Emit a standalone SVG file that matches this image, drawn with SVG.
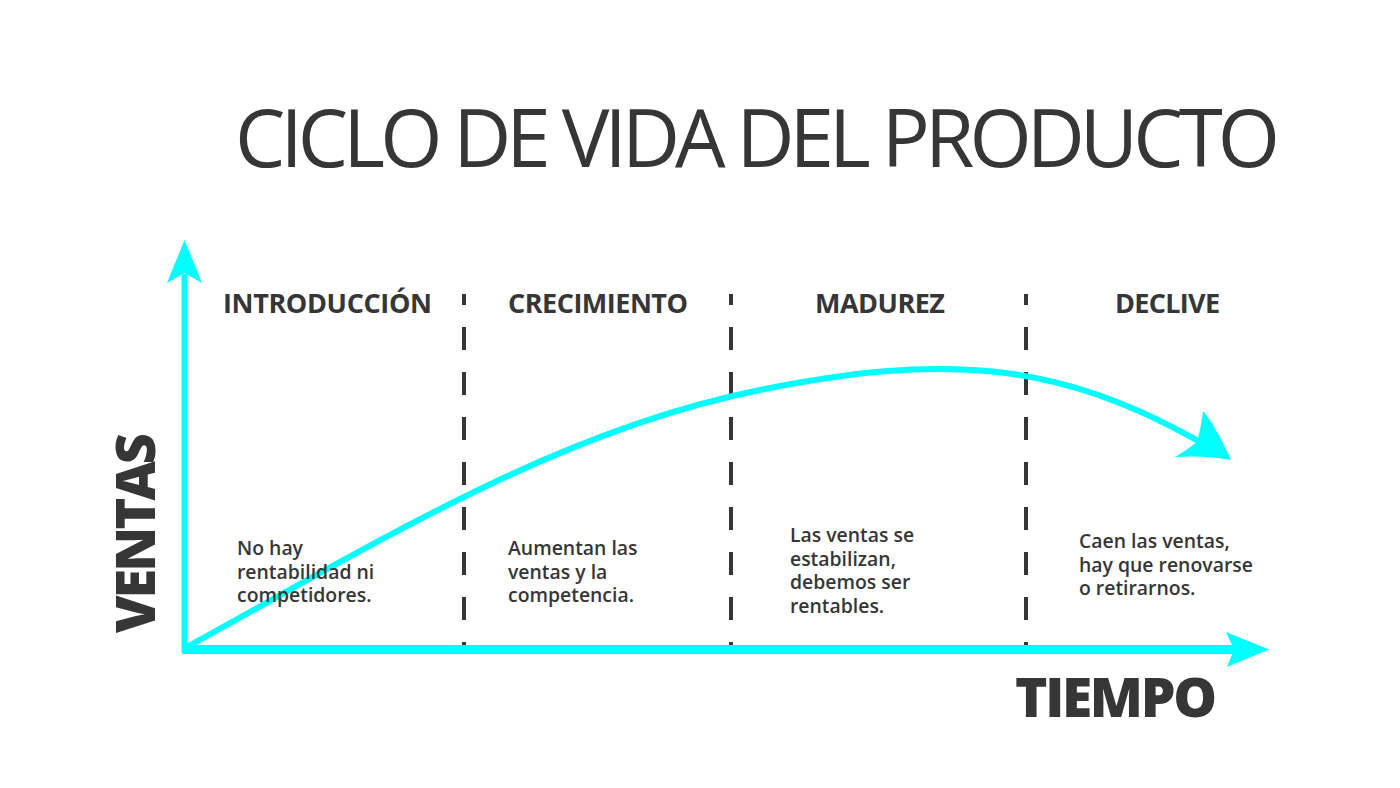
<svg xmlns="http://www.w3.org/2000/svg" width="1400" height="788" viewBox="0 0 1400 788">
  <style>
    .title { font-family: "Open Sans", "Liberation Sans", sans-serif; font-size: 80px; font-weight: 400; fill: #363636; }
    .head { font-family: "Open Sans", "Liberation Sans", sans-serif; font-size: 27px; font-weight: 700; fill: #363636; }
    .body { font-family: "Open Sans", "Liberation Sans", sans-serif; font-size: 19.4px; font-weight: 600; fill: #363636; }
    .axis { font-family: "Open Sans", "Liberation Sans", sans-serif; font-weight: 800; fill: #363636; }
    .dash { stroke: #363636; stroke-width: 4; stroke-dasharray: 23 22; fill: none; }
    .cyan { stroke: #00FFFF; fill: none; }
    .head-fill { fill: #00FFFF; stroke: none; }
  </style>
  <rect width="1400" height="788" fill="#ffffff"/>

  <g id="title">
    <text class="title" x="235" y="167" textLength="1045" lengthAdjust="spacing">CICLO DE VIDA DEL PRODUCTO</text>
  </g>

  <g id="dividers">
    <line class="dash" x1="464" y1="294" x2="464" y2="645" stroke-dashoffset="12"/>
    <line class="dash" x1="731" y1="294" x2="731" y2="645" stroke-dashoffset="12"/>
    <line class="dash" x1="1026" y1="294" x2="1026" y2="645" stroke-dashoffset="12"/>
  </g>

  <g id="connectors">
    <path id="curve" class="cyan" stroke-width="6" d="M185,648 C385,538 560,430 760,390 C940,354 1055,359.5 1200,442"/>
    <path class="head-fill" d="M1231,460 Q1215,425 1203,411 Q1201,428 1197,442 Q1187,450 1175,457 Q1205,455 1231,460 Z"/>
    <line id="y-axis" class="cyan" stroke-width="6" x1="184.5" y1="652" x2="184.5" y2="274"/>
    <polygon class="head-fill" points="184.5,240 202,283 184.5,273 167,283"/>
    <line id="x-axis" class="cyan" stroke-width="9" x1="182" y1="649.5" x2="1236" y2="649.5"/>
    <polygon class="head-fill" points="1269,649.5 1227,667 1234,649.5 1226,632"/>
  </g>

  <g id="introduccion">
    <text class="head" x="223" y="313" textLength="209" lengthAdjust="spacing">INTRODUCCIÓN</text>
    <text class="body" x="237" y="555">No hay</text>
    <text class="body" x="237" y="579">rentabilidad ni</text>
    <text class="body" x="237" y="602">competidores.</text>
  </g>

  <g id="crecimiento">
    <text class="head" x="508" y="313" textLength="180" lengthAdjust="spacing">CRECIMIENTO</text>
    <text class="body" x="508" y="555">Aumentan las</text>
    <text class="body" x="508" y="579">ventas y la</text>
    <text class="body" x="508" y="602">competencia.</text>
  </g>

  <g id="madurez">
    <text class="head" x="815" y="313" textLength="130" lengthAdjust="spacing">MADUREZ</text>
    <text class="body" x="790" y="542">Las ventas se</text>
    <text class="body" x="790" y="566">estabilizan,</text>
    <text class="body" x="790" y="589">debemos ser</text>
    <text class="body" x="790" y="613">rentables.</text>
  </g>

  <g id="declive">
    <text class="head" x="1115" y="313" textLength="105" lengthAdjust="spacing">DECLIVE</text>
    <text class="body" x="1079" y="548">Caen las ventas,</text>
    <text class="body" x="1079" y="572">hay que renovarse</text>
    <text class="body" x="1079" y="595">o retirarnos.</text>
  </g>

  <g id="ventas">
    <text class="axis" font-size="54" transform="translate(155,633) rotate(-90)" textLength="200" lengthAdjust="spacing">VENTAS</text>
  </g>

  <g id="tiempo">
    <text class="axis" font-size="55" x="1015" y="717" textLength="202" lengthAdjust="spacing">TIEMPO</text>
  </g>
</svg>
